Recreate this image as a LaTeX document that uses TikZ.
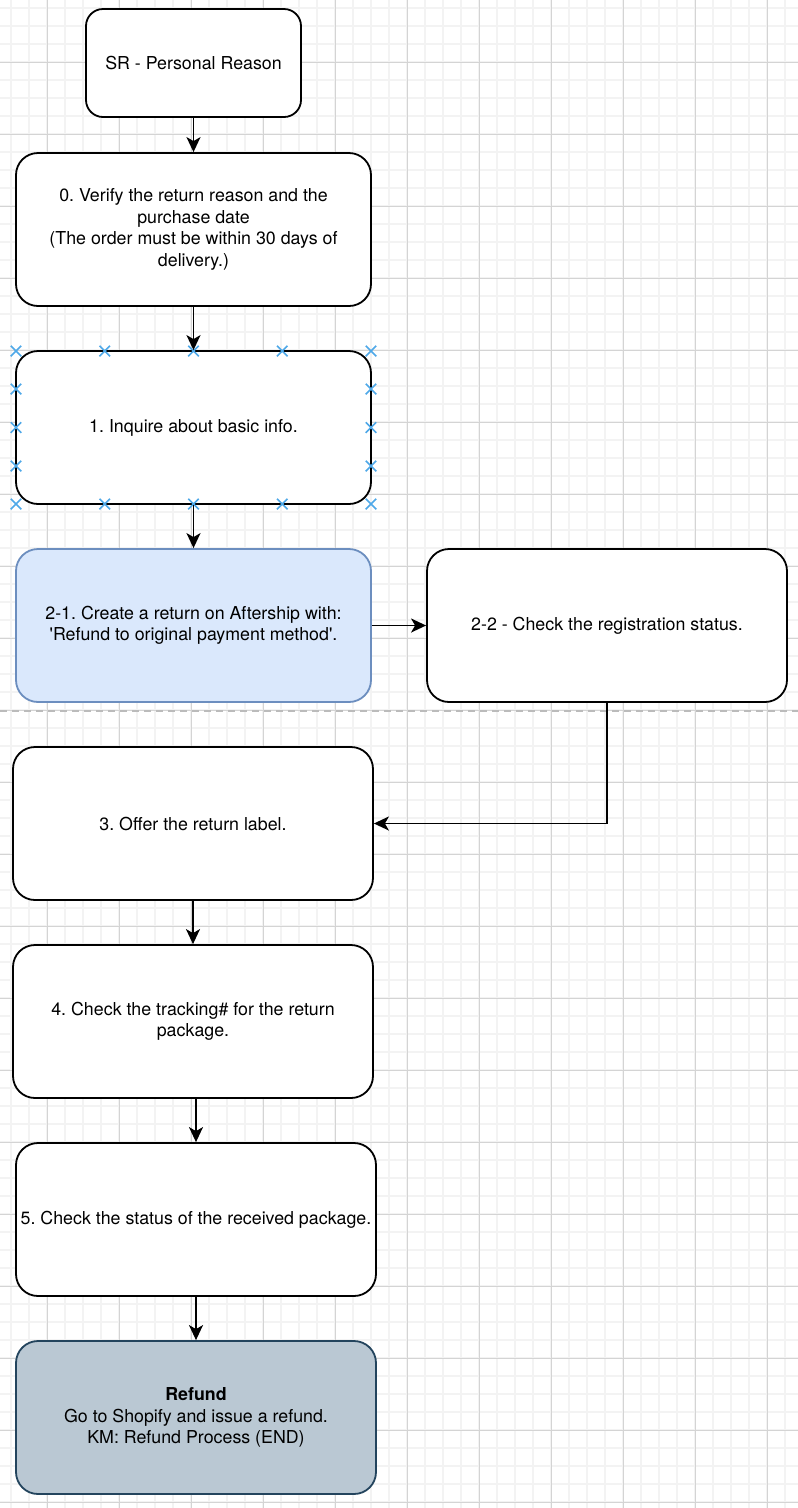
\documentclass[tikz,border=0pt]{standalone}
\usepackage{fontspec}
\setmainfont{TeX Gyre Heros}
\usetikzlibrary{arrows.meta,shapes.misc}
\frenchspacing

\definecolor{gridminor}{HTML}{F3F3F3}
\definecolor{gridmajor}{HTML}{D4D4D4}
\definecolor{pagebreak}{HTML}{BBBBBB}
\definecolor{selblue}{HTML}{4EA8E8}
\definecolor{bluefill}{HTML}{DAE8FC}
\definecolor{blueline}{HTML}{6C8EBF}
\definecolor{greyfill}{HTML}{BAC8D3}
\definecolor{greyline}{HTML}{23445D}

\tikzset{
  stepbox/.style={draw=black, line width=1.8pt, fill=white, rounded corners=22pt,
    minimum width=355pt, minimum height=153pt, align=center, inner sep=0pt,
    font=\fontsize{17.8}{21.4}\selectfont},
  flow/.style={line width=1.9pt, -{Stealth[length=15pt,width=14pt,inset=4pt]}},
  selmark/.style={cross out, draw=selblue, line width=1.5pt, minimum size=9pt, inner sep=0pt}
}

\begin{document}
\begin{tikzpicture}[x=1pt, y=-1pt]
        \useasboundingbox (0,0) rectangle (798,1508);
        \fill[white] (0,0) rectangle (798,1508);
        % grid
        \foreach \gx in {11,29,...,797} \draw[gridminor, line width=1.5pt] (\gx,0) -- (\gx,1508);
        \foreach \gy in {8,26,...,1507} \draw[gridminor, line width=1.5pt] (0,\gy) -- (798,\gy);
        \foreach \gx in {47,119,...,797} \draw[gridmajor, line width=0.9pt] (\gx,0) -- (\gx,1508);
        \foreach \gy in {62,134,...,1507} \draw[gridmajor, line width=0.9pt] (0,\gy) -- (798,\gy);
        \draw[pagebreak, line width=1.6pt, dash pattern=on 7pt off 5pt] (0,710.7) -- (798,710.7);

        \node[stepbox, minimum width=215pt, minimum height=108pt, rounded corners=17pt] (sr) at (193.5,63) {SR - Personal Reason};
        \node[stepbox] (b0) at (193.5,229.5) {0. Verify the return reason and the\\purchase date\\(The order must be within 30 days of\\delivery.)};
        \node[stepbox] (b1) at (193.5,427.5) {1. Inquire about basic info.};
        \node[stepbox, fill=bluefill, draw=blueline] (b21) at (193.5,625.5) {2-1. Create a return on Aftership with:\\\textquotesingle Refund to original payment method\textquotesingle.};
        \node[stepbox, minimum width=360pt] (b22) at (607,625.5) {2-2 - Check the registration status.};
        \node[stepbox, minimum width=360pt] (b3) at (193,823.5) {3. Offer the return label.};
        \node[stepbox, minimum width=360pt] (b4) at (193,1021.5) {4. Check the tracking\# for the return\\package.};
        \node[stepbox, minimum width=360pt] (b5) at (196,1219.5) {5. Check the status of the received package.};
        \node[stepbox, minimum width=360pt, fill=greyfill, draw=greyline] (refund) at (196,1417.5) {\textbf{Refund}\\Go to Shopify and issue a refund.\\KM: Refund Process (END)};

        % selection handles
        \foreach \mx [count=\i] in {16,104.75,193.5,282.25,371} {
            \node[selmark] (mt\i) at (\mx,351) {};
            \node[selmark] (mb\i) at (\mx,504) {};
        }
        \foreach \my [count=\i] in {389,427.5,466} {
            \node[selmark] (ml\i) at (16,\my) {};
            \node[selmark] (mr\i) at (371,\my) {};
        }

        \draw[flow] (sr) -- (b0);
        \draw[flow] (b0) -- (b1);
        \draw[flow] (b1) -- (b21);
        \draw[flow] (b21) -- (b22);
        \draw[flow] (b22.south) |- (b3.east);
        \draw[flow] (b3) -- (b4);
        \draw[flow] (b5.north |- b4.south) -- (b5);
        \draw[flow] (b5) -- (refund);

    \end{tikzpicture}
\end{document}
